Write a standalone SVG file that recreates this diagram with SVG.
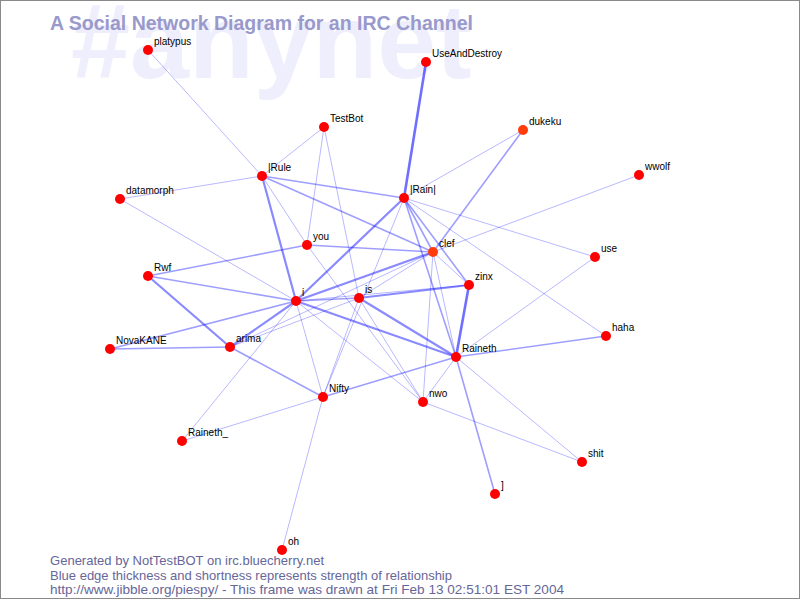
<svg xmlns="http://www.w3.org/2000/svg" width="800" height="600" viewBox="0 0 800 600">
<style>
.bg{fill:#ffffff}
.frame{fill:none;stroke:#8a8a8a;stroke-width:1}
.wm{font-family:"Liberation Sans",Arial,sans-serif;font-weight:bold;font-size:106px;fill:#eeeefd}
.title{font-family:"Liberation Sans",Arial,sans-serif;font-weight:bold;font-size:19.5px;fill:#9999cc}
.foot{font-family:"Liberation Sans",Arial,sans-serif;font-size:13px;fill:#666699}
.e{stroke:#0000ff;stroke-linecap:round}
.w1{stroke-width:1;stroke-opacity:.28}
.w2{stroke-width:1.6;stroke-opacity:.38}
.w3{stroke-width:2.2;stroke-opacity:.46}
.w4{stroke-width:2.6;stroke-opacity:.56}
.node circle{fill:#ff0000}
.node.old circle{fill:#ff3c0a}
.node text{font-family:"Liberation Sans",Arial,sans-serif;font-size:10px;fill:#000000}
</style>
<rect class="bg" x="0" y="0" width="800" height="600"/>
<text class="wm" x="71" y="78">#anynet</text>
<text class="title" x="50" y="30">A Social Network Diagram for an IRC Channel</text>
<g id="edges">
<line class="e w1" x1="148" y1="50" x2="262" y2="176"/>
<line class="e w4" x1="426" y1="62" x2="404" y2="198"/>
<line class="e w1" x1="324" y1="127" x2="262" y2="176"/>
<line class="e w1" x1="324" y1="127" x2="307" y2="245"/>
<line class="e w1" x1="324" y1="127" x2="359" y2="298"/>
<line class="e w1" x1="120" y1="199" x2="262" y2="176"/>
<line class="e w1" x1="120" y1="199" x2="296" y2="301"/>
<line class="e w1" x1="523" y1="130" x2="404" y2="198"/>
<line class="e w2" x1="523" y1="130" x2="433" y2="252"/>
<line class="e w1" x1="639" y1="175" x2="433" y2="252"/>
<line class="e w2" x1="262" y1="176" x2="404" y2="198"/>
<line class="e w2" x1="262" y1="176" x2="433" y2="252"/>
<line class="e w3" x1="262" y1="176" x2="296" y2="301"/>
<line class="e w1" x1="262" y1="176" x2="307" y2="245"/>
<line class="e w1" x1="307" y1="245" x2="423" y2="402"/>
<line class="e w1" x1="404" y1="198" x2="595" y2="257"/>
<line class="e w1" x1="404" y1="198" x2="606" y2="336"/>
<line class="e w2" x1="404" y1="198" x2="433" y2="252"/>
<line class="e w2" x1="404" y1="198" x2="469" y2="285"/>
<line class="e w2" x1="404" y1="198" x2="456" y2="357"/>
<line class="e w3" x1="404" y1="198" x2="296" y2="301"/>
<line class="e w1" x1="404" y1="198" x2="323" y2="397"/>
<line class="e w2" x1="307" y1="245" x2="433" y2="252"/>
<line class="e w2" x1="148" y1="276" x2="307" y2="245"/>
<line class="e w2" x1="148" y1="276" x2="296" y2="301"/>
<line class="e w3" x1="148" y1="276" x2="230" y2="347"/>
<line class="e w2" x1="110" y1="349" x2="230" y2="347"/>
<line class="e w2" x1="110" y1="349" x2="296" y2="301"/>
<line class="e w3" x1="230" y1="347" x2="296" y2="301"/>
<line class="e w2" x1="230" y1="347" x2="323" y2="397"/>
<line class="e w1" x1="230" y1="347" x2="433" y2="252"/>
<line class="e w1" x1="230" y1="347" x2="359" y2="298"/>
<line class="e w3" x1="296" y1="301" x2="433" y2="252"/>
<line class="e w2" x1="296" y1="301" x2="359" y2="298"/>
<line class="e w1" x1="296" y1="301" x2="469" y2="285"/>
<line class="e w3" x1="296" y1="301" x2="456" y2="357"/>
<line class="e w1" x1="296" y1="301" x2="323" y2="397"/>
<line class="e w1" x1="296" y1="301" x2="423" y2="402"/>
<line class="e w3" x1="359" y1="298" x2="469" y2="285"/>
<line class="e w3" x1="359" y1="298" x2="456" y2="357"/>
<line class="e w1" x1="359" y1="298" x2="323" y2="397"/>
<line class="e w1" x1="359" y1="298" x2="423" y2="402"/>
<line class="e w1" x1="359" y1="298" x2="433" y2="252"/>
<line class="e w4" x1="469" y1="285" x2="456" y2="357"/>
<line class="e w1" x1="433" y1="252" x2="456" y2="357"/>
<line class="e w1" x1="433" y1="252" x2="423" y2="402"/>
<line class="e w1" x1="433" y1="252" x2="469" y2="285"/>
<line class="e w2" x1="456" y1="357" x2="606" y2="336"/>
<line class="e w1" x1="456" y1="357" x2="595" y2="257"/>
<line class="e w1" x1="456" y1="357" x2="582" y2="462"/>
<line class="e w2" x1="456" y1="357" x2="495" y2="494"/>
<line class="e w1" x1="456" y1="357" x2="423" y2="402"/>
<line class="e w2" x1="456" y1="357" x2="323" y2="397"/>
<line class="e w1" x1="323" y1="397" x2="182" y2="441"/>
<line class="e w1" x1="182" y1="441" x2="296" y2="301"/>
<line class="e w1" x1="323" y1="397" x2="282" y2="550"/>
<line class="e w1" x1="423" y1="402" x2="582" y2="462"/>
</g>
<g id="n-platypus" class="node"><circle cx="148" cy="50" r="5"/><text x="154" y="45">platypus</text></g>
<g id="n-UseAndDestroy" class="node"><circle cx="426" cy="62" r="5"/><text x="432" y="57">UseAndDestroy</text></g>
<g id="n-TestBot" class="node"><circle cx="324" cy="127" r="5"/><text x="330" y="122">TestBot</text></g>
<g id="n-dukeku" class="node old"><circle cx="523" cy="130" r="5"/><text x="529" y="125">dukeku</text></g>
<g id="n-wwolf" class="node"><circle cx="639" cy="175" r="5"/><text x="645" y="170">wwolf</text></g>
<g id="n-datamorph" class="node"><circle cx="120" cy="199" r="5"/><text x="126" y="194">datamorph</text></g>
<g id="n-Rule" class="node"><circle cx="262" cy="176" r="5"/><text x="268" y="171">|Rule</text></g>
<g id="n-Rain" class="node"><circle cx="404" cy="198" r="5"/><text x="410" y="193">|Rain|</text></g>
<g id="n-you" class="node"><circle cx="307" cy="245" r="5"/><text x="313" y="240">you</text></g>
<g id="n-clef" class="node old"><circle cx="433" cy="252" r="5"/><text x="439" y="247">clef</text></g>
<g id="n-use" class="node"><circle cx="595" cy="257" r="5"/><text x="601" y="252">use</text></g>
<g id="n-Rwf" class="node"><circle cx="148" cy="276" r="5"/><text x="154" y="271">Rwf</text></g>
<g id="n-zinx" class="node"><circle cx="469" cy="285" r="5"/><text x="475" y="280">zinx</text></g>
<g id="n-i" class="node"><circle cx="296" cy="301" r="5"/><text x="302" y="296">i</text></g>
<g id="n-is" class="node"><circle cx="359" cy="298" r="5"/><text x="365" y="293">is</text></g>
<g id="n-haha" class="node"><circle cx="606" cy="336" r="5"/><text x="612" y="331">haha</text></g>
<g id="n-NovaKANE" class="node"><circle cx="110" cy="349" r="5"/><text x="116" y="344">NovaKANE</text></g>
<g id="n-arima" class="node"><circle cx="230" cy="347" r="5"/><text x="236" y="342">arima</text></g>
<g id="n-Raineth" class="node"><circle cx="456" cy="357" r="5"/><text x="462" y="352">Raineth</text></g>
<g id="n-Nifty" class="node"><circle cx="323" cy="397" r="5"/><text x="329" y="392">Nifty</text></g>
<g id="n-nwo" class="node"><circle cx="423" cy="402" r="5"/><text x="429" y="397">nwo</text></g>
<g id="n-Raineth_" class="node"><circle cx="182" cy="441" r="5"/><text x="188" y="436">Raineth_</text></g>
<g id="n-shit" class="node"><circle cx="582" cy="462" r="5"/><text x="588" y="457">shit</text></g>
<g id="n-bracket" class="node"><circle cx="495" cy="494" r="5"/><text x="501" y="489">]</text></g>
<g id="n-oh" class="node"><circle cx="282" cy="550" r="5"/><text x="288" y="545">oh</text></g>
<text class="foot" x="50" y="565" textLength="274" lengthAdjust="spacingAndGlyphs">Generated by NotTestBOT on irc.bluecherry.net</text>
<text class="foot" x="50" y="579.5" textLength="402" lengthAdjust="spacingAndGlyphs">Blue edge thickness and shortness represents strength of relationship</text>
<text class="foot" x="50" y="594" textLength="514" lengthAdjust="spacingAndGlyphs">http://www.jibble.org/piespy/ - This frame was drawn at Fri Feb 13 02:51:01 EST 2004</text>
<rect class="frame" x="0.5" y="0.5" width="799" height="598"/>
</svg>
